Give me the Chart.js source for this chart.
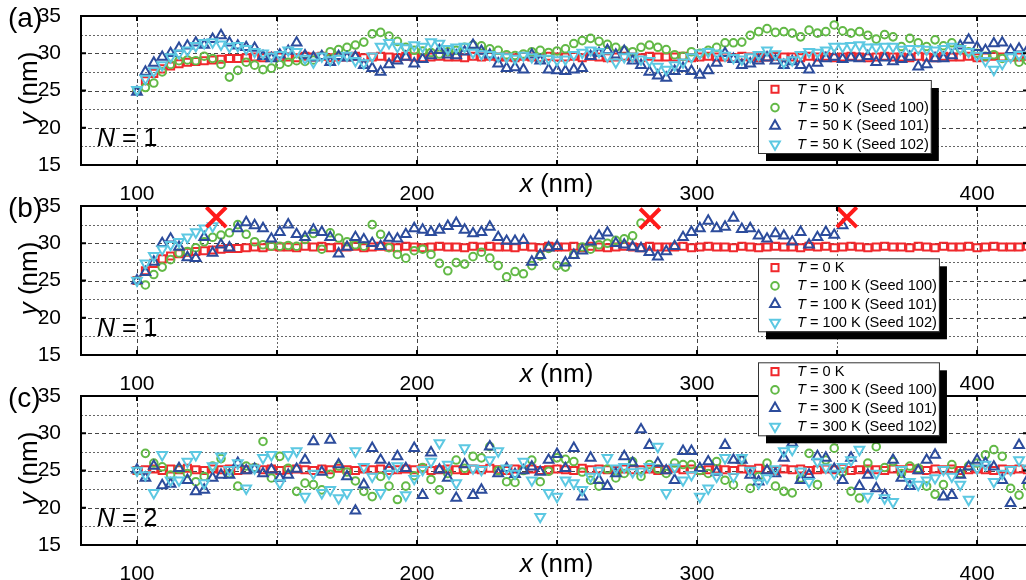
<!DOCTYPE html>
<html><head><meta charset="utf-8">
<script src="https://cdn.jsdelivr.net/npm/chart.js@4/dist/chart.umd.min.js"></script>
<style>
html,body{margin:0;padding:0;background:#fff;overflow:hidden;width:1026px;height:580px;position:relative;}
canvas{position:absolute;left:0;}
</style></head><body>
<canvas id="pa" width="1030" height="200" style="top:0px"></canvas>
<canvas id="pb" width="1030" height="200" style="top:190px"></canvas>
<canvas id="pc" width="1030" height="240" style="top:340px"></canvas>
<script>
// ---------- DATA ----------
const xGrid = [100,103,106,109,112,115,118,121,124,127,130,133,136,139,142,145,148,151,154,157,160,163,166,169,172,175,178,181,184,187,190,193,196,199,202,205,208,211,214,217,220,223,226,229,232,235,238,241,244,247,250,253,256,259,262,265,268,271,274,277,280,283,286,289,292,295,298,301,304,307,310,313,316,319,322,325,328,331,334,337,340,343,346,349,352,355,358,361,364,367,370,373,376,379,382,385,388,391,394,397,400,403,406,409,412,415,418];
const xTicks = [100,150,200,250,300,350,400];
const yTicks = [15,20,25,30,35];
const yMinor = [17.5,22.5,27.5,32.5];

// T = 0 K, N = 1 (panels a, b)
const redN1 = [25.0,26.3,27.3,27.9,28.3,28.6,28.8,28.9,29.0,29.1,29.2,29.3,29.3,29.4,
29.5,29.4,29.6,29.5,29.5,29.4,29.6,29.5,29.6,29.4,
29.5,29.5,29.6,29.4,29.5,29.6,29.5,29.4,29.6,29.5,
29.4,29.5,29.6,29.5,29.5,29.4,29.6,29.5,29.6,29.5,
29.5,29.4,29.6,29.5,29.4,29.6,29.5,29.5,29.6,29.4,
29.6,29.5,29.4,29.5,29.6,29.5,29.4,29.6,29.5,29.5,
29.5,29.6,29.4,29.5,29.6,29.5,29.5,29.4,29.6,29.5,
29.4,29.5,29.6,29.5,29.5,29.4,29.6,29.5,29.6,29.4,
29.5,29.6,29.5,29.4,29.5,29.6,29.5,29.5,29.4,29.6,
29.5,29.4,29.6,29.5,29.5,29.6,29.4,29.5,29.6,29.5,
29.5,29.5,29.6];
// T = 0 K, N = 2 (panel c)
const redN2 = [25.0,25.1,25.2,25.0,25.2,25.1,25.3,25.1,25.0,25.2,
25.1,25.2,25.0,25.1,25.3,25.1,25.2,25.0,25.1,25.2,
25.1,25.0,25.2,25.1,25.3,25.1,25.0,25.2,25.1,25.2,
25.0,25.1,25.2,25.1,25.3,25.0,25.1,25.2,25.1,25.0,
25.2,25.1,25.3,25.1,25.0,25.2,25.1,25.2,25.0,25.1,
25.2,25.1,25.0,25.3,25.1,25.2,25.1,25.0,25.2,25.1,
25.1,25.2,25.0,25.1,25.3,25.1,25.2,25.0,25.1,25.2,
25.1,25.0,25.2,25.1,25.3,25.1,25.0,25.2,25.1,25.2,
25.0,25.1,25.2,25.1,25.3,25.0,25.1,25.2,25.1,25.0,
25.2,25.1,25.3,25.1,25.0,25.2,25.1,25.2,25.0,25.1,
25.2,25.1,25.0,25.2,25.1,25.2,25.1];

// Panel (a): T = 50 K
const green50 = [25.0,25.4,26.0,27.5,28.5,29.0,29.1,29.0,29.6,29.3,
28.5,26.8,27.7,28.8,28.4,27.8,28.0,28.5,28.8,29.0,
28.9,29.1,29.6,30.2,30.5,30.8,31.1,31.5,32.6,32.8,
32.3,31.6,30.8,30.4,30.3,30.1,29.9,30.2,30.4,30.8,
31.1,31.0,30.6,30.4,29.8,29.7,29.9,30.2,30.4,30.1,
30.3,30.6,31.3,31.7,32.0,31.6,31.2,30.8,30.4,30.2,
30.8,31.1,30.8,30.5,29.8,29.6,30.2,30.0,30.4,30.8,
31.4,31.4,31.5,32.4,32.9,33.3,32.8,32.9,32.7,32.2,
33.1,32.7,32.9,33.8,33.0,32.7,32.9,32.4,31.9,32.5,
32.2,30.9,32.0,31.4,30.9,31.8,31.0,31.4,30.6,30.2,
30.0,29.6,29.8,29.3,29.5,28.8,29.0];
const blue50 = [24.8,27.5,28.7,29.5,30.0,30.7,31.0,31.4,31.1,31.9,
32.4,31.4,31.0,30.8,30.7,29.6,29.3,29.8,30.3,31.4,
29.7,29.4,29.6,28.8,29.6,29.4,29.5,28.4,28.0,27.5,
28.5,29.0,29.5,28.6,29.2,29.7,30.4,29.8,29.7,30.2,
31.1,30.3,29.8,28.6,28.0,28.1,27.8,29.8,29.0,27.8,
27.7,27.6,27.8,28.0,29.6,30.0,30.4,29.8,30.3,29.0,
28.4,27.5,27.0,26.7,27.6,28.0,27.6,27.1,27.7,28.7,
30.0,29.2,28.4,28.6,29.0,29.4,29.0,28.4,28.9,28.4,
27.8,28.7,29.3,29.5,29.2,29.4,29.3,29.6,28.8,29.4,
28.9,29.2,29.5,28.2,28.5,29.3,29.3,29.7,31.0,31.8,
30.8,30.4,31.3,31.4,30.4,30.6,30.4];
const cyan50 = [25.1,26.6,27.6,28.4,29.5,30.0,30.4,31.0,31.4,31.5,
31.2,30.9,31.0,30.6,30.2,30.0,29.6,29.8,30.4,30.2,
29.3,28.8,29.6,29.1,29.3,29.7,29.0,28.7,29.6,30.9,
31.4,30.9,30.7,31.1,30.9,31.5,31.3,30.6,30.8,30.9,
30.1,29.9,29.8,29.6,29.5,29.3,29.7,29.5,29.3,29.3,
29.1,29.2,29.8,30.1,30.4,30.2,29.6,28.8,29.5,29.6,
29.2,29.0,28.2,27.8,28.4,28.8,29.5,30.0,30.2,30.0,
29.7,29.4,29.2,29.5,29.8,30.4,29.9,28.8,29.1,29.8,
30.2,30.1,30.4,30.9,30.9,31.0,31.1,30.8,30.8,30.9,
30.9,30.5,30.6,30.6,30.5,30.4,30.6,30.9,30.6,30.2,
29.7,29.0,27.8,28.6,29.5,29.8,29.7];

// Panel (b): T = 100 K (trajectories end where the particle leaves)
const green100 = [25.0,24.4,25.8,26.8,27.8,28.7,28.9,29.4,30.2,30.8,
31.1,31.4,32.5,31.2,30.2,29.8,29.6,29.6,29.7,29.6,
30.5,31.3,29.2,31.4,30.7,30.2,29.8,29.6,32.5,31.2,
29.4,28.5,28.0,29.0,29.2,28.5,27.3,26.3,27.4,27.2,
28.2,28.8,28.0,27.0,25.5,26.2,25.9,27.0,28.3,29.3,
27.0,26.8,28.5,29.5,29.2,29.8,30.0,30.4,30.6,31.0,
32.7];
const blue100 = [25.0,26.1,27.5,30.0,30.6,29.5,28.1,28.0,30.8,28.7,
29.8,29.4,32.0,32.8,32.4,32.0,30.6,31.5,32.5,31.2,
30.8,31.8,31.5,30.8,28.6,29.5,30.8,30.5,30.0,29.6,
30.7,30.6,31.2,32.0,31.8,31.5,31.8,32.3,32.7,31.8,
31.3,31.5,32.2,30.8,30.3,30.3,30.4,27.5,28.4,29.4,
29.6,27.4,28.4,29.0,30.2,31.0,31.4,30.0,29.8,29.5,
29.3,28.8,28.2,28.9,29.6,30.8,31.5,32.0,33.0,32.0,
32.2,33.4,31.9,32.0,31.0,30.6,31.3,31.0,30.2,31.5,
29.8,30.8,31.5,31.1,32.4];
const cyan100 = [25.0,27.3,28.3,29.2,29.8,30.2,30.8,31.5,32.0,32.3];
const exitX = [128.3,283.2,353.5];
const exitY = [33.5,33.3,33.5];

// Panel (c): T = 300 K, N = 2
const green300 = [25.0,27.3,26.0,25.5,24.4,25.2,24.6,23.5,24.2,25.6,
26.6,24.6,22.9,25.6,25.4,28.9,24.0,26.9,25.3,22.2,
23.3,23.1,22.4,24.5,25.6,24.8,23.6,22.2,21.5,24.2,
22.9,21.1,22.9,24.3,25.4,23.8,22.4,24.6,26.4,25.3,
26.9,26.7,28.2,25.0,23.5,23.4,25.0,26.4,23.5,24.9,
26.7,26.5,26.2,24.8,23.7,22.9,25.2,24.0,24.6,26.2,
24.2,25.8,25.2,24.6,26.0,25.8,25.8,25.0,24.6,26.2,
23.7,23.1,26.4,22.6,24.2,26.0,22.9,22.2,22.0,24.0,
27.3,23.1,26.4,28.0,24.8,22.2,21.3,26.0,28.2,25.4,
26.2,24.6,25.6,25.3,22.9,21.8,23.1,25.8,24.6,25.6,
26.0,27.1,27.8,26.9,22.6,21.7,22.9];
const blue300 = [25.1,24.0,25.6,23.0,23.2,25.3,23.7,22.2,22.4,24.0,
24.4,24.4,26.0,25.0,25.2,24.6,25.1,24.0,24.4,25.2,
26.4,28.9,24.8,29.1,25.8,24.2,19.6,23.1,28.0,26.4,
25.3,26.9,25.3,28.0,21.7,27.4,25.1,24.0,21.3,25.8,
21.7,22.4,28.2,24.6,25.3,24.5,25.0,25.5,24.8,26.4,
27.2,25.3,28.0,21.5,26.7,23.7,22.9,24.6,26.9,26.0,
30.5,28.4,26.0,25.0,23.7,27.6,27.6,25.3,26.2,24.8,
28.4,26.4,26.4,24.4,23.5,25.0,24.6,26.7,28.7,23.7,
24.4,26.9,26.7,25.2,23.7,26.7,22.9,24.4,22.6,21.7,
26.4,24.0,22.9,25.0,26.4,27.1,21.5,21.7,24.4,25.5,
26.4,26.0,25.5,23.7,20.6,28.4,23.7];
const cyan300 = [25.0,24.4,22.0,27.1,23.7,23.7,26.2,27.1,23.3,25.6,
26.9,25.1,26.0,22.6,25.3,26.7,27.1,23.3,27.1,27.6,
21.5,24.6,22.0,22.4,21.3,22.0,27.6,25.5,24.2,22.0,
24.6,25.6,21.7,23.9,25.1,26.2,28.7,25.8,23.3,28.0,
25.3,25.1,26.4,27.6,25.3,24.6,26.2,23.7,18.8,22.0,
21.5,23.7,23.3,22.4,24.2,25.0,26.7,25.3,25.5,24.8,
24.9,25.5,28.2,22.0,25.4,23.7,24.4,21.5,22.6,24.2,
26.7,24.2,26.7,25.0,23.3,24.0,25.2,27.6,27.8,24.9,
23.5,26.2,25.4,24.6,25.5,26.4,27.8,21.5,24.6,21.3,
20.8,25.1,23.5,23.1,23.7,24.0,25.1,24.2,23.1,21.1,
25.3,25.8,23.5,24.6,25.1,26.4,25.3];

const legendA = ['T = 0 K','T = 50 K (Seed 100)','T = 50 K (Seed 101)','T = 50 K (Seed 102)'];
const legendB = ['T = 0 K','T = 100 K (Seed 100)','T = 100 K (Seed 101)','T = 100 K (Seed 102)'];
const legendC = ['T = 0 K','T = 300 K (Seed 100)','T = 300 K (Seed 101)','T = 300 K (Seed 102)'];

// ---------- STYLE ----------
const FF = '"Liberation Sans", Arial, Helvetica, sans-serif';
const COL = {red:'#f0282c', green:'#62b946', blue:'#2c4c9c', cyan:'#5cc8e2', exit:'#ff1a1a'};
const STY = [
  {pointStyle:'rect', radius:5, rotation:0, color:COL.red},
  {pointStyle:'circle', radius:3.8, rotation:0, color:COL.green},
  {pointStyle:'triangle', radius:5.6, rotation:0, color:COL.blue},
  {pointStyle:'triangle', radius:5.6, rotation:180, color:COL.cyan}
];
const BW = 2;

function pts(ys){ return ys.map((v,i)=>({x:xGrid[i], y:v})); }

function mixed(ctx, x, y, itPart, rest, size, align){
  ctx.font = 'italic ' + size + 'px ' + FF;
  const w1 = ctx.measureText(itPart).width;
  ctx.font = size + 'px ' + FF;
  const w2 = ctx.measureText(rest).width;
  let sx = x;
  if (align === 'center') sx = x - (w1 + w2) / 2;
  ctx.textAlign = 'left';
  ctx.font = 'italic ' + size + 'px ' + FF;
  ctx.fillText(itPart, sx, y);
  ctx.font = size + 'px ' + FF;
  ctx.fillText(rest, sx + w1, y);
  return w1 + w2;
}

const gridPlugin = {
  id:'gridFrame',
  beforeDatasetsDraw(chart){
    const {ctx, chartArea:a, scales:{x, y}} = chart;
    ctx.save();
    ctx.lineWidth = 1;
    for (const v of xTicks){
      const major = v % 100 === 0;
      ctx.strokeStyle = major ? '#444' : '#666';
      ctx.setLineDash(major ? [4,3] : [2,2]);
      const p = Math.round(x.getPixelForValue(v)) + 0.5;
      ctx.beginPath(); ctx.moveTo(p, a.top); ctx.lineTo(p, a.bottom); ctx.stroke();
    }
    for (const v of yTicks.concat(yMinor)){
      if (v === 15 || v === 35) continue;
      const major = v % 5 === 0;
      ctx.strokeStyle = major ? '#444' : '#666';
      ctx.setLineDash(major ? [4,3] : [2,2]);
      const p = Math.round(y.getPixelForValue(v)) + 0.5;
      ctx.beginPath(); ctx.moveTo(a.left, p); ctx.lineTo(a.right, p); ctx.stroke();
    }
    ctx.restore();
  },
  afterDatasetsDraw(chart){
    const {ctx, chartArea:a, scales:{x, y}} = chart;
    ctx.save();
    ctx.setLineDash([]);
    ctx.strokeStyle = '#000';
    ctx.lineWidth = 2;
    ctx.strokeRect(a.left, a.top, a.right - a.left, a.bottom - a.top);
    ctx.beginPath();
    for (const v of xTicks){
      const p = x.getPixelForValue(v);
      ctx.moveTo(p, a.top); ctx.lineTo(p, a.top + 5);
      ctx.moveTo(p, a.bottom); ctx.lineTo(p, a.bottom - 5);
    }
    for (const v of yTicks){
      const p = y.getPixelForValue(v);
      ctx.moveTo(a.left, p); ctx.lineTo(a.left + 5, p);
      ctx.moveTo(a.right, p); ctx.lineTo(a.right - 5, p);
    }
    ctx.stroke();
    ctx.restore();
  }
};

function annotPlugin(o){
  return {
    id:'annot',
    afterDraw(chart){
      const {ctx, chartArea:a} = chart;
      ctx.save();
      ctx.fillStyle = '#000';
      ctx.textBaseline = 'alphabetic';
      ctx.font = '28px ' + FF; ctx.textAlign = 'left';
      ctx.fillText(o.letter, 8, a.top + 11);
      mixed(ctx, (a.left + a.right) / 2 + 2, a.bottom + 27, 'x', ' (nm)', 26, 'center');
      ctx.save();
      ctx.translate(30, (a.top + a.bottom) / 2 - 2);
      ctx.rotate(-Math.PI / 2);
      ctx.textBaseline = 'middle';
      mixed(ctx, 0, 0, 'y', ' (nm)', 26, 'center');
      ctx.restore();
      ctx.textBaseline = 'alphabetic';
      mixed(ctx, 97, a.bottom - 19, 'N', o.nText, 25, 'left');
      const L = o.legend;
      const fs = 14.6;
      let maxW = 0;
      for (const s of L.labels){
        ctx.font = 'italic ' + fs + 'px ' + FF;
        const w1 = ctx.measureText(s[0]).width;
        ctx.font = fs + 'px ' + FF;
        maxW = Math.max(maxW, w1 + ctx.measureText(s.slice(1)).width);
      }
      const left = 758, top = a.top + L.dy, textX = 797, markX = 775;
      const w = textX + maxW + 2 - left, h = 73;
      ctx.fillStyle = '#000';
      ctx.fillRect(left + 8, top + 8, w, h);
      ctx.fillStyle = '#fff';
      ctx.fillRect(left, top, w, h);
      ctx.strokeStyle = '#333'; ctx.lineWidth = 1;
      ctx.strokeRect(left + 0.5, top + 0.5, w, h);
      L.labels.forEach((s, i) => {
        const ry = top + 9.3 + i * 18.3;
        const st = STY[i];
        ctx.strokeStyle = st.color; ctx.fillStyle = 'rgba(0,0,0,0)'; ctx.lineWidth = BW;
        Chart.helpers.drawPoint(ctx, {pointStyle:st.pointStyle, rotation:st.rotation, radius:st.radius, borderWidth:BW}, markX, ry);
        ctx.fillStyle = '#000';
        ctx.textBaseline = 'middle';
        mixed(ctx, textX, ry + 0.5, s[0], s.slice(1), fs, 'left');
      });
      ctx.restore();
    }
  };
}

function zeroPad(s){ s.paddingTop = 0; s.paddingBottom = 0; s.paddingLeft = 0; s.paddingRight = 0; }

function makePanel(id, o){
  const sets = [o.red, o.green, o.blue, o.cyan].map((ys, i) => ({
    label: o.legend.labels[i],
    data: pts(ys),
    showLine: false,
    pointStyle: STY[i].pointStyle,
    pointRotation: STY[i].rotation,
    pointRadius: STY[i].radius,
    pointHoverRadius: STY[i].radius,
    pointBorderWidth: BW,
    pointBorderColor: STY[i].color,
    pointBackgroundColor: 'rgba(0,0,0,0)',
    order: 4 - i
  }));
  if (o.exit){
    sets.push({label:'exit', data: o.exit, showLine:false, pointStyle:'crossRot', pointRadius:14, pointHoverRadius:14,
      pointBorderWidth:4, pointBorderColor:COL.exit, pointBackgroundColor:'rgba(0,0,0,0)', order:0});
  }
  const tickFont = {family: FF, size: 21};
  new Chart(document.getElementById(id), {
    type: 'scatter',
    data: {datasets: sets},
    options: {
      responsive: false, animation: false, events: [],
      layout: {autoPadding: false, padding: {top: o.top, left: 0, right: 2, bottom: 0}},
      plugins: {legend: {display: false}, tooltip: {enabled: false}},
      scales: {
        x: {type:'linear', min:80, max:418.2,
          grid:{display:false}, border:{display:false},
          afterBuildTicks: s => { s.ticks = xTicks.map(v => ({value:v})); },
          afterFit: s => { s.height = 35; zeroPad(s); },
          ticks:{autoSkip:false, maxRotation:0, padding:9, color:'#000', font:tickFont,
            callback: v => (v % 100 === 0 ? String(v) : '')}},
        y: {type:'linear', min:15, max:35,
          grid:{display:false}, border:{display:false},
          afterBuildTicks: s => { s.ticks = yTicks.map(v => ({value:v})); },
          afterFit: s => { s.width = 81; zeroPad(s); },
          ticks:{padding:12, color:'#000', font:tickFont}}
      }
    },
    plugins: [gridPlugin, annotPlugin(o)]
  });
}

makePanel('pa', {top:16, letter:'(a)', nText:' = 1', red:redN1, green:green50, blue:blue50, cyan:cyan50,
  legend:{labels:legendA, dy:64}});
makePanel('pb', {top:16, letter:'(b)', nText:' = 1', red:redN1, green:green100, blue:blue100, cyan:cyan100,
  exit: exitX.map((v, i) => ({x:v, y:exitY[i]})),
  legend:{labels:legendB, dy:52.3}});
makePanel('pc', {top:56, letter:'(c)', nText:' = 2', red:redN2, green:green300, blue:blue300, cyan:cyan300,
  legend:{labels:legendC, dy:-33.7}});
</script>
</body></html>
